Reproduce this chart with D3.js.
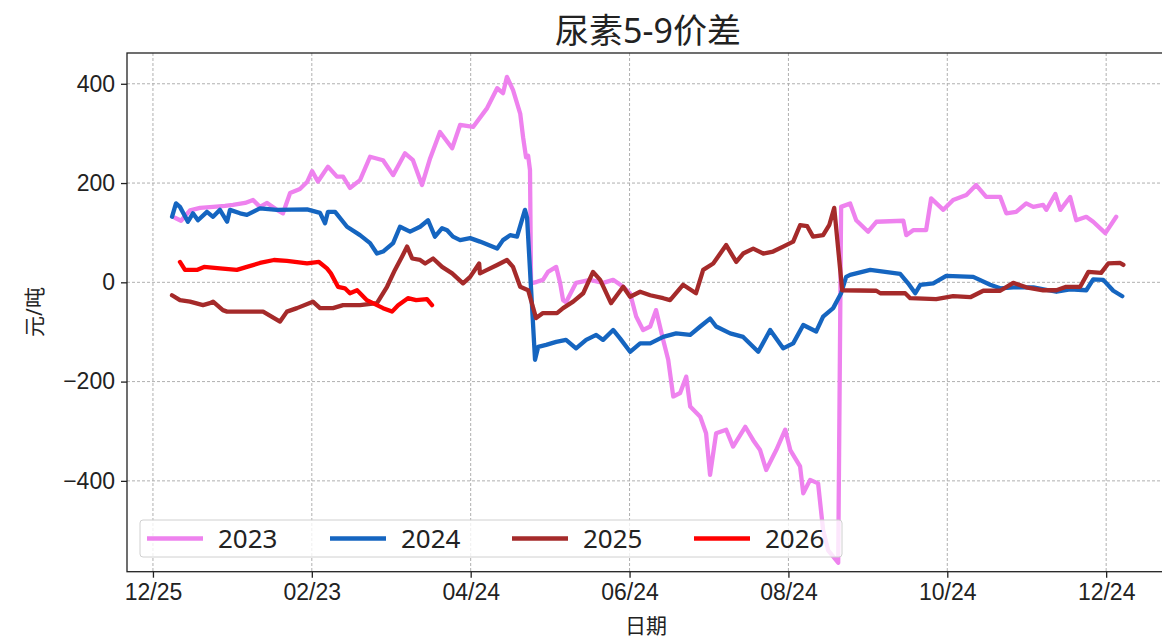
<!DOCTYPE html>
<html>
<head>
<meta charset="utf-8">
<script src="https://cdn.jsdelivr.net/npm/d3@7"></script>
<style>
  html, body { margin: 0; padding: 0; background: #fff; }
  svg { display: block; font-family: "Noto Sans", "Noto Sans CJK SC", sans-serif; }
</style>
</head>
<body>
<svg id="chart" width="1162" height="639"></svg>
<script>
// ---- data (x = days after 12/25, y = 元/吨) ----
const seriesNames = ["2023", "2024", "2025", "2026"];
const seriesColors = ["#ee82ee", "#1565c0", "#a52a2a", "#ff0000"];

const s2023 = [[8.3,130],[10.6,124],[14.0,145],[17.8,150],[22.7,152],[27.2,154],[30.2,156],[34.8,160],[37.8,166],[40.4,152],[43.1,160],[46.8,146],[49.1,139],[51.8,180],[55.5,188],[58.2,202],[60.1,224],[62.3,203],[66.1,233],[69.5,213],[71.8,213],[74.4,190],[78.2,206],[82.0,253],[86.9,246],[90.7,216],[95.2,260],[98.2,246],[101.6,196],[104.7,250],[108.4,303],[113.0,270],[116.0,317],[120.9,313],[126.2,351],[130.0,391],[132.2,381],[133.7,414],[136.0,387],[138.7,340],[139.8,292],[140.9,252],[141.7,255],[142.4,226],[142.8,-2],[145.0,1],[147.3,5],[149.2,21],[152.3,31],[153.8,-2],[154.9,-36],[156.0,-40],[159.8,-1],[165.1,5],[170.0,-1],[173.8,5],[177.6,-9],[180.2,-22],[182.5,-69],[185.1,-96],[187.8,-89],[190.0,-56],[192.7,-116],[194.6,-156],[196.5,-230],[199.1,-223],[201.4,-190],[202.9,-250],[206.7,-271],[208.9,-304],[210.4,-388],[212.7,-304],[216.5,-297],[219.1,-331],[223.7,-291],[226.7,-318],[229.3,-338],[231.6,-378],[235.4,-338],[238.8,-297],[240.7,-338],[244.4,-371],[245.6,-425],[248.2,-398],[251.2,-405],[253.1,-499],[255.0,-540],[258.8,-565],[259.9,152],[263.3,159],[265.6,125],[270.1,102],[273.2,122],[283.4,124],[284.5,95],[287.1,105],[292.0,105],[293.9,169],[298.5,146],[302.2,166],[307.2,176],[310.9,196],[314.7,172],[320.0,172],[322.3,139],[326.0,142],[329.8,159],[332.5,152],[336.2,156],[337.4,146],[340.8,178],[342.7,146],[346.4,172],[348.7,125],[352.5,132],[355.1,122],[359.7,99],[363.8,132]];

const s2024 = [[7.2,132],[8.7,159],[10.2,152],[13.2,122],[15.1,139],[17.0,125],[20.4,142],[22.7,132],[25.3,146],[28.0,122],[29.1,146],[32.9,139],[35.5,136],[40.4,149],[46.8,146],[58.2,147],[63.1,140],[65.0,119],[66.1,142],[68.8,142],[73.3,112],[78.2,95],[82.0,79],[84.6,58],[86.9,62],[90.7,79],[93.3,112],[97.1,102],[100.9,112],[103.9,125],[106.5,92],[109.2,109],[111.1,105],[113.3,92],[116.0,85],[119.8,89],[123.5,82],[130.0,68],[132.2,85],[134.9,95],[137.5,92],[140.5,146],[141.3,130],[144.3,-156],[145.5,-130],[148.5,-126],[152.3,-120],[156.0,-116],[159.8,-133],[163.6,-116],[167.4,-106],[170.0,-116],[173.8,-96],[176.4,-113],[180.2,-140],[184.0,-123],[187.8,-123],[192.7,-110],[197.6,-103],[202.9,-106],[206.7,-89],[210.4,-73],[212.7,-89],[218.0,-103],[222.9,-110],[228.6,-140],[233.1,-96],[238.0,-133],[241.8,-123],[245.6,-86],[250.5,-99],[253.1,-69],[256.9,-52],[259.9,-22],[261.8,11],[263.3,15],[270.9,25],[282.2,17],[285.2,-2],[287.9,-22],[289.8,-5],[294.7,-2],[299.6,13],[309.8,11],[316.2,-5],[320.0,-12],[324.9,-10],[332.5,-10],[341.2,-19],[346.4,-14],[352.5,-16],[355.1,6],[358.9,5],[362.7,-17],[366.1,-28]];

const s2025 = [[7.2,-26],[10.2,-36],[14.0,-39],[18.9,-46],[21.5,-42],[22.7,-39],[26.4,-56],[28.0,-59],[41.6,-59],[48.0,-79],[50.6,-59],[54.4,-52],[60.4,-39],[63.1,-52],[68.0,-52],[71.8,-46],[78.2,-46],[84.6,-42],[88.4,-9],[91.4,25],[94.1,52],[96.0,72],[97.9,48],[100.9,45],[102.8,38],[105.8,48],[109.2,31],[113.0,18],[117.1,-2],[119.8,11],[123.2,38],[123.5,18],[126.2,25],[130.0,35],[133.7,45],[136.0,31],[138.7,-9],[141.7,-16],[144.7,-72],[147.3,-62],[152.6,-62],[154.9,-52],[158.7,-39],[162.5,-22],[166.2,21],[168.9,5],[173.0,-42],[177.6,-9],[180.2,-29],[184.0,-19],[187.8,-26],[192.7,-32],[195.3,-36],[200.2,-5],[205.1,-22],[207.8,25],[211.6,38],[216.5,75],[220.3,41],[222.9,58],[226.7,68],[230.5,58],[234.2,62],[238.0,72],[241.8,82],[244.4,115],[247.1,113],[249.3,92],[253.1,95],[255.4,115],[257.3,150],[260.3,-16],[273.2,-17],[274.7,-22],[284.1,-22],[286.0,-32],[295.8,-34],[302.2,-28],[308.7,-30],[313.6,-17],[320.0,-17],[324.9,-1],[329.8,-10],[336.2,-16],[341.2,-16],[344.9,-9],[350.2,-9],[353.3,21],[358.1,19],[360.8,38],[365.3,39],[366.5,35]];

const s2026 = [[10.2,41],[12.1,25],[16.6,25],[19.3,31],[25.3,28],[31.7,25],[35.5,31],[40.4,39],[45.7,45],[50.6,43],[58.2,38],[62.7,41],[65.7,28],[67.2,18],[69.9,-9],[72.5,-12],[74.4,-22],[77.1,-16],[80.8,-36],[84.6,-46],[86.9,-52],[90.3,-59],[92.6,-46],[96.3,-32],[99.4,-36],[103.5,-34],[105.4,-46]];

const seriesData = [s2023, s2024, s2025, s2026];

const xTickValues = [0, 60, 120, 180, 240, 300, 360];
const xTickLabels = ["12/25", "02/23", "04/24", "06/24", "08/24", "10/24", "12/24"];
const yTickValues = [-400, -200, 0, 200, 400];

const titleText = "尿素5-9价差";
const xLabelText = "日期";
const yLabelText = "元/吨";

// ---- layout ----
const svg = d3.select("#chart");
const L = 127, T = 53, R = 1166, B = 571.7;

const x = d3.scaleLinear().domain([-9.8, 382.6]).range([L, R]);
const y = d3.scaleLinear().domain([-583, 462]).range([B, T]);

// grid
const grid = svg.append("g");
grid.selectAll("line.v").data(xTickValues).enter().append("line")
  .attr("x1", d => x(d)).attr("x2", d => x(d)).attr("y1", T).attr("y2", B)
  .attr("stroke", "#b0b0b0").attr("stroke-width", 1).attr("stroke-dasharray", "3,2");
grid.selectAll("line.h").data(yTickValues).enter().append("line")
  .attr("x1", L).attr("x2", R).attr("y1", d => y(d)).attr("y2", d => y(d))
  .attr("stroke", "#b0b0b0").attr("stroke-width", 1).attr("stroke-dasharray", "3,2");

// clip
svg.append("defs").append("clipPath").attr("id", "clip")
  .append("rect").attr("x", L).attr("y", T).attr("width", R - L).attr("height", B - T);

const line = d3.line().x(d => x(d[0])).y(d => y(d[1]));
const lines = svg.append("g").attr("clip-path", "url(#clip)");
seriesData.forEach((s, i) => {
  lines.append("path").datum(s)
    .attr("d", line)
    .attr("fill", "none")
    .attr("stroke", seriesColors[i])
    .attr("stroke-width", 4.3)
    .attr("stroke-linejoin", "round")
    .attr("stroke-linecap", "round");
});

// axes
const xAxis = d3.axisBottom(x).tickValues(xTickValues)
  .tickFormat((d, i) => xTickLabels[i]).tickSize(6).tickPadding(6);
const gx = svg.append("g").attr("transform", `translate(0,${B})`).call(xAxis);
gx.select(".domain").remove();
gx.selectAll("line").attr("stroke", "#222").attr("stroke-width", 1.3);
gx.selectAll("text").attr("font-size", 23).attr("fill", "#222");

const yAxis = d3.axisLeft(y).tickValues(yTickValues)
  .tickFormat(d => d < 0 ? "\u2212" + Math.abs(d) : d).tickSize(6).tickPadding(6);
const gy = svg.append("g").attr("transform", `translate(${L},0)`).call(yAxis);
gy.select(".domain").remove();
gy.selectAll("line").attr("stroke", "#222").attr("stroke-width", 1.3);
gy.selectAll("text").attr("font-size", 23).attr("fill", "#222");

// spines
svg.append("rect").attr("x", L).attr("y", T).attr("width", R - L).attr("height", B - T)
  .attr("fill", "none").attr("stroke", "#222").attr("stroke-width", 1.3);

// legend
const lg = svg.append("g");
lg.append("rect").attr("x", 140).attr("y", 520).attr("width", 702).attr("height", 37)
  .attr("rx", 3).attr("fill", "#fff").attr("fill-opacity", 0.8)
  .attr("stroke", "#d0d0d0").attr("stroke-width", 1);
const legX = [147, 330, 512, 694];
seriesNames.forEach((n, i) => {
  lg.append("line").attr("x1", legX[i]).attr("x2", legX[i] + 56)
    .attr("y1", 538.5).attr("y2", 538.5)
    .attr("stroke", seriesColors[i]).attr("stroke-width", 4.3);
  lg.append("text").attr("x", legX[i] + 71).attr("y", 538.5).attr("dy", "0.36em")
    .attr("font-size", 26).attr("fill", "#222").text(n);
});

// title and labels
svg.append("text").attr("x", 648).attr("y", 43).attr("text-anchor", "middle")
  .attr("font-size", 34).attr("fill", "#222").text(titleText);
svg.append("text").attr("x", 646).attr("y", 633).attr("text-anchor", "middle")
  .attr("font-size", 21).attr("fill", "#222").text(xLabelText);
svg.append("text").attr("transform", "translate(42,312) rotate(-90)")
  .attr("text-anchor", "middle").attr("font-size", 21).attr("fill", "#222").text(yLabelText);
</script>
</body>
</html>
